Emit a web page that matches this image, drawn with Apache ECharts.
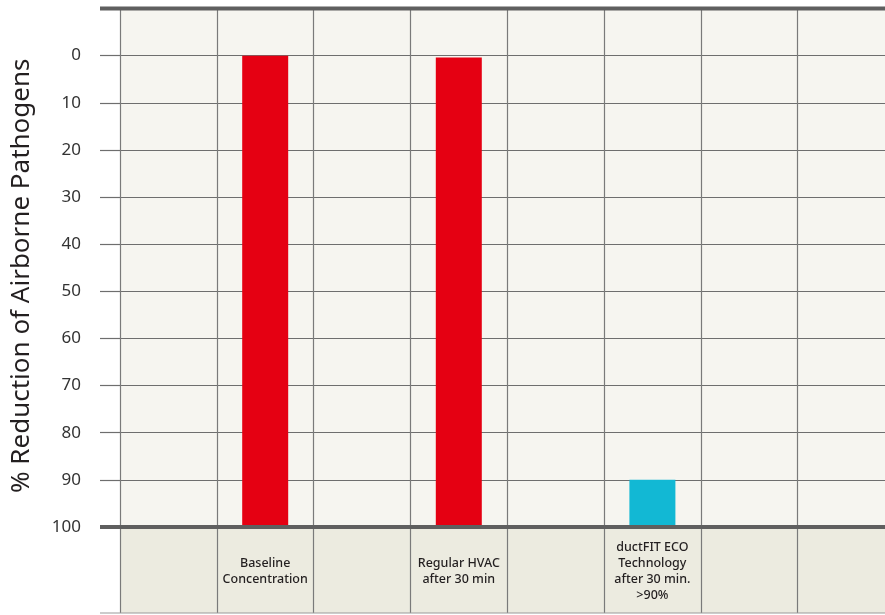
<!DOCTYPE html>
<html>
<head>
<meta charset="utf-8">
<script src="https://cdn.jsdelivr.net/npm/echarts@6/dist/echarts.min.js"></script>
<style>html,body{margin:0;padding:0;background:#fff;}#c{width:885px;height:615px;}</style>
</head>
<body>
<div id="c"></div>
<script>
// ---- data ----
const categories = ['', 'Baseline\nConcentration', '', 'Regular HVAC\nafter 30 min', '', 'ductFIT ECO\nTechnology\nafter 30 min.\n>90%', '', ''];
const reduction = [null, 0, null, 0.4, null, 90, null, null];
const barColors = [null, '#e50012', null, '#e50012', null, '#12b8d4', null, null];
const yMin = -10, yMax = 100, yStep = 10;
const yTitle = '% Reduction of Airborne Pathogens';

const FONT = '"Noto Sans", "Open Sans", sans-serif';
const chart = echarts.init(document.getElementById('c'), null, {renderer: 'canvas'});

const fill = reduction.map((v, i) => v == null ? null : {value: yMax - v, itemStyle: {color: barColors[i]}});

chart.setOption({
  backgroundColor: '#ffffff',
  animation: false,
  grid: [
    {left: 120, top: 8.5, right: -9.4, height: 518.5, show: true, backgroundColor: '#f6f5f0', borderWidth: 0, outerBoundsMode: 'none', containLabel: false},
    {left: 120, top: 529, right: -9.4, height: 84, show: true, backgroundColor: '#ecebe0', borderWidth: 0, outerBoundsMode: 'none', containLabel: false}
  ],
  xAxis: [
    {gridIndex: 0, type: 'category', data: categories, boundaryGap: true,
     axisLine: {show: false}, axisTick: {show: false, interval: 0}, axisLabel: {show: false, interval: 0},
     splitLine: {show: true, interval: 0, lineStyle: {color: '#7a7a7a', width: 1.2}}},
    {gridIndex: 1, type: 'category', data: categories, boundaryGap: true, position: 'bottom',
     axisLine: {show: false}, axisTick: {show: false, interval: 0},
     axisLabel: {show: true, inside: true, margin: 42, interval: 0, verticalAlign: 'middle', align: 'center',
       color: '#231f20', fontSize: 12.5, fontWeight: 500, lineHeight: 16, fontFamily: FONT},
     splitLine: {show: true, interval: 0, lineStyle: {color: '#7a7a7a', width: 1.2}}}
  ],
  yAxis: [
    {gridIndex: 0, type: 'value', inverse: true, min: yMin, max: yMax, interval: yStep,
     axisLine: {show: false},
     axisTick: {show: true, length: 20, lineStyle: {color: '#6e6e6e', width: 1.2}},
     axisLabel: {margin: 39, color: '#333', fontSize: 17, fontFamily: FONT,
       formatter: v => (v < 0 ? '' : String(v))},
     splitLine: {show: true, lineStyle: {color: '#6e6e6e', width: 1.2}},
     name: yTitle, nameLocation: 'middle', nameGap: 85, nameRotate: 90,
     nameTextStyle: {fontSize: 26, color: '#231f20', fontFamily: FONT, padding: [0, 16, 0, 0]}},
    {gridIndex: 1, type: 'value', min: 0, max: 1, show: false}
  ],
  series: [
    {type: 'bar', xAxisIndex: 0, yAxisIndex: 0, stack: 's', barWidth: 46, silent: true,
     itemStyle: {color: 'transparent'}, data: reduction},
    {type: 'bar', xAxisIndex: 0, yAxisIndex: 0, stack: 's', barWidth: 46, data: fill}
  ]
});

function rule(y, w, color) {
  return {type: 'line', shape: {x1: 100, y1: y, x2: 885, y2: y}, style: {stroke: color, lineWidth: w}, z: 10};
}
const yTop = chart.convertToPixel({yAxisIndex: 0}, yMin);
const yBot = chart.convertToPixel({yAxisIndex: 0}, yMax);
chart.setOption({graphic: [
  rule(yTop, 4, '#5f5f5f'),
  rule(yBot, 4, '#5f5f5f'),
  rule(613, 1.2, '#9a9a9a')
]});
</script>
</body>
</html>
